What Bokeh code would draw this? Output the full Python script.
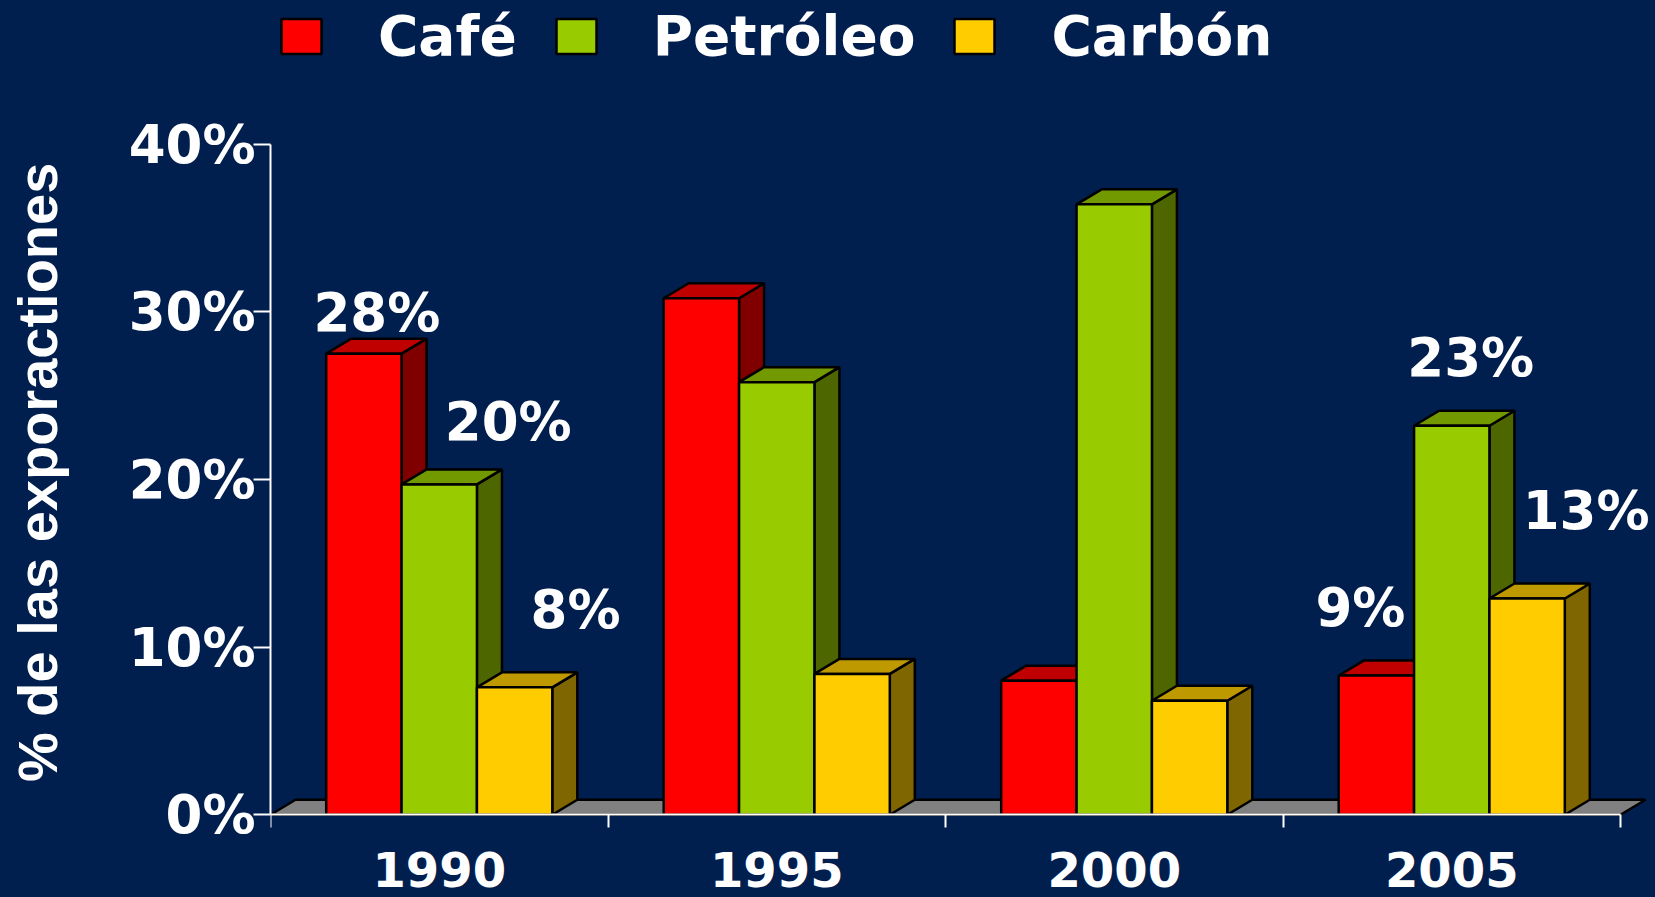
from bokeh.plotting import figure
from bokeh.models import (ColumnDataSource, Range1d, FixedTicker, Legend, LegendItem)
from bokeh.embed import file_html
from bokeh.resources import INLINE
from bokeh.core.properties import value

# ---------------- data ----------------
years = ["1990", "1995", "2000", "2005"]
series = ["Café", "Petróleo", "Carbón"]
cafe = [27.5, 30.8, 8.0, 8.3]
petroleo = [19.7, 25.8, 36.4, 23.2]
carbon = [7.6, 8.4, 6.8, 12.9]
y_ticks = [0, 10, 20, 30, 40]
y_tick_labels = ["0%", "10%", "20%", "30%", "40%"]
y_title = "% de las exporactiones"
# data labels shown on the chart
label_series = [0, 1, 2, 0, 1, 2]
label_year = [0, 0, 0, 3, 3, 3]
label_text = ["28%", "20%", "8%", "9%", "23%", "13%"]

# ---------------- layout / style ----------------
label_dx = [13, 69, 61, -16, 19, 59]      # px offsets of data labels
label_dy = [-41, -63, -78, -68, -68, -88]

BG = "#001E4E"
front = ["#FF0000", "#99CC00", "#FFCC00"]
topc = ["#C00000", "#739900", "#BF9900"]
side = ["#800000", "#4D6600", "#806600"]
NUM_FONT = "DejaVu Sans"
TXT_FONT = "Liberation Sans"
EDGE_W = 2.5

W, H = 1655, 897
LEFT = 270
ZERO_Y = 814.3          # canvas y of the 0 % line
PX_CAT = 337.5
PX_PCT = 16.77
x_end = (W - LEFT) / PX_CAT
y_start = -(H - ZERO_Y) / PX_PCT
y_end = ZERO_Y / PX_PCT
bw = 0.2233
off = 0.5 - 1.5 * bw
DX = 25 / PX_CAT
DY = 15 / PX_PCT

p = figure(width=W, height=H, x_range=Range1d(0, x_end), y_range=Range1d(y_start, y_end),
           output_backend="svg", toolbar_location=None,
           min_border_left=LEFT, min_border_right=0, min_border_top=0,
           min_border_bottom=0,
           background_fill_color=BG, border_fill_color=BG, outline_line_color=None)
p.grid.visible = False
p.title.visible = False

n = len(years)

# floor
p.patch([0, n, n + DX, DX], [0, 0, DY, DY], fill_color="#808080",
        line_color="black", line_width=EDGE_W)

vals = [cafe, petroleo, carbon]
front_renderers = []
for s, v in enumerate(vals):
    left = [i + off + s * bw for i in range(n)]
    right = [l + bw for l in left]
    side_xs = [[r, r + DX, r + DX, r] for r in right]
    side_ys = [[0, DY, val + DY, val] for val in v]
    top_xs = [[l, r, r + DX, l + DX] for l, r in zip(left, right)]
    top_ys = [[val, val, val + DY, val + DY] for val in v]
    p.patches(side_xs, side_ys, fill_color=side[s], line_color="black", line_width=EDGE_W)
    p.patches(top_xs, top_ys, fill_color=topc[s], line_color="black", line_width=EDGE_W)
    r = p.quad(left=left, right=right, bottom=0, top=v, fill_color=front[s],
               line_color="black", line_width=EDGE_W)
    front_renderers.append(r)

# data labels
lx = [i + off + s * bw + bw / 2 for s, i in zip(label_series, label_year)]
ly = [vals[s][i] for s, i in zip(label_series, label_year)]
lab_src = ColumnDataSource(dict(x=lx, y=ly, text=label_text, xo=label_dx, yo=label_dy))
p.text(x="x", y="y", text="text", x_offset="xo", y_offset="yo", source=lab_src,
       text_align="center", text_baseline="alphabetic",
       text_font=value(NUM_FONT), text_font_style="bold",
       text_font_size="53px", text_color="white")

# x axis drawn at y = 0: boundary ticks (minor) and year labels (major)
xa = p.xaxis[0]
xa.fixed_location = 0
xa.ticker = FixedTicker(ticks=[i + 0.5 for i in range(n)],
                        minor_ticks=list(range(n + 1)))
xa.major_label_overrides = {i + 0.5: years[i] for i in range(n)}
xa.bounds = (0, n)
xa.axis_line_color = "white"
xa.axis_line_width = 2
xa.major_tick_line_color = None
xa.major_tick_out = 0
xa.major_tick_in = 0
xa.minor_tick_line_color = "white"
xa.minor_tick_line_width = 2
xa.minor_tick_out = 13
xa.minor_tick_in = 0
xa.major_label_standoff = 24
xa.major_label_text_font = NUM_FONT
xa.major_label_text_font_style = "bold"
xa.major_label_text_font_size = "48px"
xa.major_label_text_color = "white"

# y axis
ya = p.yaxis[0]
ya.ticker = FixedTicker(ticks=y_ticks)
ya.major_label_overrides = {t: l for t, l in zip(y_ticks, y_tick_labels)}
ya.bounds = (0, 40)
ya.axis_line_color = "white"
ya.axis_line_width = 2
ya.major_tick_line_color = "white"
ya.major_tick_line_width = 2
ya.major_tick_out = 17
ya.major_tick_in = 0
ya.minor_tick_line_color = None
ya.major_label_standoff = -2
ya.major_label_text_font = NUM_FONT
ya.major_label_text_font_style = "bold"
ya.major_label_text_font_size = "53px"
ya.major_label_text_color = "white"
# trailing no-break spaces shift the centred title towards the bottom, as in the original
ya.axis_label = y_title + "\u00a0\u00a0\u00a0"
ya.axis_label_text_font = TXT_FONT
ya.axis_label_text_font_style = "bold"
ya.axis_label_text_font_size = "56px"
ya.axis_label_text_color = "white"
ya.axis_label_standoff = 57

# legend at the top of the plot area
legend = Legend(items=[LegendItem(label=series[s], renderers=[front_renderers[s]])
                       for s in range(len(series))],
                orientation="horizontal", location=(6, 829),
                glyph_width=50, glyph_height=44, label_standoff=52, spacing=34,
                padding=0, margin=0, border_line_color=None, background_fill_alpha=0,
                label_text_font=NUM_FONT, label_text_font_style="bold",
                label_text_font_size="55px", label_text_color="white")
p.add_layout(legend)

html = file_html(p, INLINE, title="Exportaciones")
html = html.replace("</head>", "<style>html, body {background-color: %s;}</style></head>" % BG, 1)
open("out.html", "w").write(html)
